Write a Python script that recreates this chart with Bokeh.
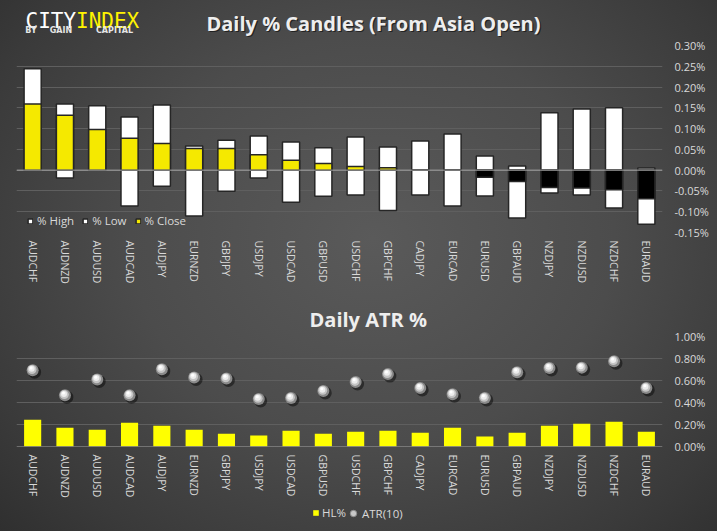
from bokeh.plotting import figure
from bokeh.models import (FactorRange, Range1d, FixedTicker, PrintfTickFormatter,
                          Span, Legend, LegendItem, ColumnDataSource)
from bokeh.layouts import column
from bokeh.transform import dodge
from bokeh.core.properties import value
from bokeh.embed import file_html
from bokeh.resources import INLINE

# ---------------- data ----------------
pairs = ["AUDCHF", "AUDNZD", "AUDUSD", "AUDCAD", "AUDJPY", "EURNZD", "GBPJPY",
         "USDJPY", "USDCAD", "GBPUSD", "USDCHF", "GBPCHF", "CADJPY", "EURCAD",
         "EURUSD", "GBPAUD", "NZDJPY", "NZDUSD", "NZDCHF", "EURAUD"]
pct_high = [0.244, 0.159, 0.155, 0.128, 0.157, 0.058, 0.072, 0.082, 0.068, 0.054,
            0.080, 0.056, 0.070, 0.087, 0.034, 0.010, 0.138, 0.147, 0.150, 0.005]
pct_low = [0.000, -0.019, 0.000, -0.086, -0.039, -0.110, -0.051, -0.019, -0.077, -0.063,
           -0.060, -0.097, -0.060, -0.086, -0.062, -0.115, -0.055, -0.060, -0.091, -0.130]
pct_close = [0.159, 0.132, 0.098, 0.077, 0.064, 0.052, 0.052, 0.037, 0.024, 0.016,
             0.009, 0.006, 0.000, 0.000, -0.017, -0.027, -0.042, -0.043, -0.047, -0.069]
hl_pct = [0.243, 0.171, 0.153, 0.216, 0.189, 0.153, 0.117, 0.099, 0.144, 0.117,
          0.135, 0.144, 0.126, 0.171, 0.090, 0.126, 0.189, 0.207, 0.225, 0.135]
atr10 = [0.694, 0.466, 0.610, 0.466, 0.703, 0.628, 0.619, 0.432, 0.441, 0.505,
         0.586, 0.658, 0.532, 0.475, 0.441, 0.676, 0.714, 0.717, 0.775, 0.532]
candle_ticks = [-0.15, -0.10, -0.05, 0.0, 0.05, 0.10, 0.15, 0.20, 0.25, 0.30]
atr_ticks = [0.0, 0.2, 0.4, 0.6, 0.8, 1.0]

# ---------------- style ----------------
W = 717
FL, FR = 16, 662          # frame left / right (pixels) shared by all rows
FONT = "Open Sans"
TXT = "#d9d9d9"
GRID = "#5f5f5f"
ZERO = "#a3a3a3"
YEL_TOP = "#f5e900"
YEL_BOT = "#ffff00"
BG = ("radial-gradient(ellipse 75% 85% at 52% 45%, #5a5a5a 0%, #4c4c4c 45%, "
      "#3a3a3a 78%, #2c2c2c 100%)")
DY = -6  # baseline correction for header texts


def bare(h, x_range=None, y_range=None):
    f = figure(width=W, height=h,
               x_range=x_range if x_range is not None else Range1d(FL, FR),
               y_range=y_range if y_range is not None else Range1d(h, 0),
               title=None, min_border=0, min_border_left=FL,
               min_border_right=W - FR, toolbar_location=None,
               output_backend="svg", x_axis_type=None, y_axis_type=None)
    f.background_fill_color = None
    f.border_fill_color = None
    f.outline_line_color = None
    return f


def style_chart(p, ticks, fmt):
    p.background_fill_color = None
    p.border_fill_color = None
    p.outline_line_color = None
    p.xgrid.grid_line_color = None
    p.ygrid.grid_line_color = GRID
    p.ygrid.grid_line_width = 1
    yax = p.yaxis[0]
    yax.ticker = FixedTicker(ticks=ticks)
    yax.formatter = PrintfTickFormatter(format=fmt)
    yax.axis_line_color = None
    yax.major_tick_line_color = None
    yax.minor_tick_line_color = None
    yax.major_tick_out = 0
    yax.major_label_text_color = TXT
    yax.major_label_text_font = FONT
    yax.major_label_text_font_size = "11px"
    yax.major_label_standoff = 12
    xax = p.xaxis[0]
    xax.axis_line_color = None
    xax.major_tick_line_color = None
    xax.minor_tick_line_color = None
    xax.major_tick_out = 0
    xax.major_label_orientation = "vertical"
    xax.major_label_text_color = TXT
    xax.major_label_text_font = FONT
    xax.major_label_text_font_size = "10.5px"
    xax.major_label_standoff = 8


# ---------------- header ----------------
h1 = bare(37)
h1.text(x=[25], y=[26 + DY], text=["CITY"], text_font=value("DejaVu Sans Mono"),
        text_font_size="21px", text_color="#ffffff", text_baseline="alphabetic")
h1.text(x=[75.5], y=[26 + DY], text=["INDEX"], text_font=value("DejaVu Sans Mono"),
        text_font_size="21px", text_color="#fff200", text_baseline="alphabetic")
h1.text(x=[30.5, 60.5, 114], y=[36 + DY] * 3, text=["BY", "GAIN", "CAPITAL"],
        text_font=value("DejaVu Sans"), text_font_style="bold",
        text_font_size="8px", text_color="#e6e6e6", text_align="center",
        text_baseline="alphabetic")
ttl = "Daily % Candles (From Asia Open)"
h1.text(x=[374.2], y=[29 + DY + 1.2], text=[ttl], text_font=value(FONT),
        text_font_style="bold", text_font_size="20px", text_color="#000000",
        text_alpha=0.55, text_align="center", text_baseline="alphabetic")
h1.text(x=[373], y=[29 + DY], text=[ttl], text_font=value(FONT),
        text_font_style="bold", text_font_size="20px", text_color="#eeeeee",
        text_align="center", text_baseline="alphabetic")

# ---------------- candles chart ----------------
close_colors = [YEL_TOP if c >= 0 else "#000000" for c in pct_close]
src1 = ColumnDataSource(dict(pair=pairs, high=pct_high, low=pct_low,
                             close=pct_close, ccol=close_colors))
p1 = figure(width=W, height=253, x_range=FactorRange(factors=pairs),
            y_range=Range1d(-0.15, 0.30), y_axis_location="right", title=None,
            toolbar_location=None, output_backend="svg",
            min_border_left=FL, min_border_right=W - FR, min_border_top=8,
            min_border_bottom=58)
style_chart(p1, candle_ticks, "%.2f%%")
bar_kw = dict(width=0.53, source=src1, line_color="#262626", line_width=1.5)
r_high = p1.vbar(x="pair", bottom=0, top="high", fill_color="#ffffff", **bar_kw)
r_low = p1.vbar(x="pair", bottom="low", top=0, fill_color="#ffffff", **bar_kw)
r_close = p1.vbar(x="pair", bottom=0, top="close", fill_color="ccol", **bar_kw)
p1.add_layout(Span(location=0, dimension="width", line_color=ZERO, line_width=1))

leg1 = Legend(items=[LegendItem(label="% High", renderers=[r_high]),
                     LegendItem(label="% Low", renderers=[r_low]),
                     LegendItem(label="% Close", renderers=[r_close])],
              location=(11, 4), orientation="horizontal",
              background_fill_alpha=0, border_line_color=None,
              label_text_color=TXT, label_text_font=FONT,
              label_text_font_size="11.5px", glyph_width=6, glyph_height=6,
              label_height=14, label_standoff=4, spacing=8, padding=2, margin=0)
p1.add_layout(leg1, "center")

# ---------------- ATR chart ----------------
src2 = ColumnDataSource(dict(pair=pairs, hl=hl_pct, atr=atr10))
p2 = figure(width=W, height=210, x_range=FactorRange(factors=pairs),
            y_range=Range1d(0, 1.0), y_axis_location="right",
            title="Daily ATR %", toolbar_location=None, output_backend="svg",
            min_border_left=FL, min_border_right=W - FR, min_border_top=46,
            min_border_bottom=53)
style_chart(p2, atr_ticks, "%.2f%%")
p2.title.align = "left"
p2.title.offset = 309 - FL
p2.title.standoff = 7
p2.title.text_font = FONT
p2.title.text_font_style = "bold"
p2.title.text_font_size = "20px"
p2.title.text_color = "#eeeeee"
p2.vbar(x="pair", bottom=0, top="hl", width=0.53, source=src2,
        fill_color=YEL_BOT, line_color=None)
p2.add_layout(Span(location=0, dimension="width", line_color=ZERO, line_width=1))

xr = p2.x_range
p2.scatter(x=dodge("pair", 0.06, range=xr), y=dodge("atr", -0.018), source=src2,
           size=13, fill_color="#000000", fill_alpha=0.45, line_color=None)
p2.scatter(x="pair", y="atr", source=src2, size=12,
           fill_color="#8a8a8a", line_color=None)
p2.scatter(x=dodge("pair", -0.02, range=xr), y=dodge("atr", 0.006),
           source=src2, size=9, fill_color="#c4c4c4", line_color=None)
p2.scatter(x=dodge("pair", -0.03, range=xr), y=dodge("atr", 0.012), source=src2,
           size=6, fill_color="#ececec", line_color=None)
p2.scatter(x=dodge("pair", -0.045, range=xr), y=dodge("atr", 0.02), source=src2,
           size=3, fill_color="#ffffff", line_color=None)

# ---------------- footer legend (its series lie outside the footer's view) ----
ft = bare(31, x_range=FactorRange(factors=pairs), y_range=Range1d(5, 6))
k_hl = ft.vbar(x="pair", bottom=0, top="hl", width=0.53, source=src2,
               fill_color=YEL_BOT, line_color=None)
k_atr = ft.scatter(x="pair", y="atr", source=src2, size=12,
                   fill_color="#c8c8c8", line_color="#8a8a8a", line_width=1)
leg_kw = dict(orientation="horizontal", background_fill_alpha=0,
              border_line_color=None, label_text_color=TXT, label_text_font=FONT,
              label_text_font_size="11.5px", label_height=14, margin=0, padding=0)
leg2a = Legend(items=[LegendItem(label="HL%", renderers=[k_hl])],
               location=(312 - FL, 11), glyph_width=7, glyph_height=7,
               label_standoff=3, **leg_kw)
leg2b = Legend(items=[LegendItem(label="ATR(10)", renderers=[k_atr])],
               location=(345 - FL, 10), glyph_width=16, glyph_height=16,
               label_standoff=1, **leg_kw)
ft.add_layout(leg2a, "center")
ft.add_layout(leg2b, "center")

layout = column(h1, p1, p2, ft, spacing=0, styles={"background": BG})
open("out.html", "w").write(file_html(layout, INLINE))
